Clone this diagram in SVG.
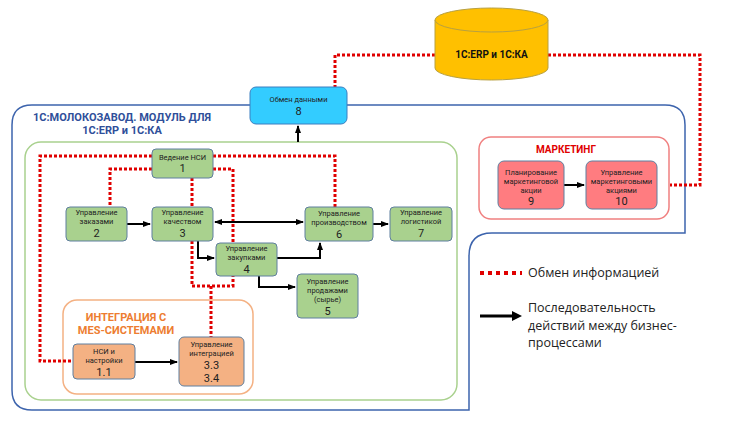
<svg xmlns="http://www.w3.org/2000/svg" width="750" height="422" viewBox="0 0 750 422">
<defs>
<marker id="ah" markerWidth="8" markerHeight="8" refX="7" refY="4" orient="auto" markerUnits="userSpaceOnUse"><path d="M0,1 L8,4 L0,7 z" fill="#000"/></marker>
<marker id="ahs" markerWidth="8" markerHeight="8" refX="1" refY="4" orient="auto" markerUnits="userSpaceOnUse"><path d="M8,1 L0,4 L8,7 z" fill="#000"/></marker>
<style>
text{font-family:Roboto,"Liberation Sans",sans-serif;text-anchor:middle;fill:#222}
.s{font-size:7.5px}.n{font-size:11px}
.g{fill:#A9D18E;stroke:#5f7f9f;stroke-width:1}
.o{fill:#F4B183;stroke:#5f7f9f;stroke-width:1}
.p{fill:#FF7C80;stroke:#5f7f9f;stroke-width:1}
.red{fill:none;stroke:#E00000;stroke-width:3;stroke-dasharray:3 2}
.blk{fill:none;stroke:#000;stroke-width:2}
</style>
</defs>
<path d="M32,105 H665 Q685,105 685,125 V233 H492 Q469,233 469,256 V410 H32 Q12,410 12,390 V125 Q12,105 32,105 Z" fill="none" stroke="#3d64ad" stroke-width="1.5"/>
<text x="122" y="121" style="font-size:11px;font-weight:bold;fill:#2f4f9a">1С:МОЛОКОЗАВОД. МОДУЛЬ ДЛЯ</text>
<text x="122" y="134" style="font-size:11px;font-weight:bold;fill:#2f4f9a">1С:ERP и 1С:КА</text>
<rect x="25" y="142" width="432" height="258" rx="16" fill="none" stroke="#A9D18E" stroke-width="1.5"/>
<rect x="63" y="300" width="190" height="94" rx="14" fill="none" stroke="#F4B183" stroke-width="1.5"/>
<text x="126" y="321" style="font-size:11px;font-weight:bold;fill:#ED7D31">ИНТЕГРАЦИЯ С</text>
<text x="126" y="334" style="font-size:11px;font-weight:bold;fill:#ED7D31">MES-СИСТЕМАМИ</text>
<rect x="479" y="137" width="190" height="82" rx="12" fill="none" stroke="#F08080" stroke-width="1.5"/>
<text x="566" y="153" style="font-size:10px;font-weight:bold;fill:#E00000">МАРКЕТИНГ</text>
<g id="connectors">
<path class="red" d="M435,55 H335 V87"/>
<path class="red" d="M548,55 H700 V185 H670"/>
<path class="red" d="M152,156 H40 V361 H73"/>
<path class="red" d="M152,169 H110 V207"/>
<path class="red" d="M213,156 H335 V207"/>
<path class="red" d="M213,169 H233 V286 H192 V241"/>
<path class="red" d="M192,178 V207"/>
<path class="red" d="M211,286 V337"/>
<path class="blk" d="M298,142 V126" marker-end="url(#ah)"/>
<path class="blk" d="M127,224 H150" marker-end="url(#ah)"/>
<path class="blk" d="M215,222 H303" marker-end="url(#ah)" marker-start="url(#ahs)"/>
<path class="blk" d="M373,224 H388" marker-end="url(#ah)"/>
<path class="blk" d="M198,241 V258 H214" marker-end="url(#ah)"/>
<path class="blk" d="M277,258 H320 V243" marker-end="url(#ah)"/>
<path class="blk" d="M259,276 V287 H295" marker-end="url(#ah)"/>
<path class="blk" d="M135,362 H177" marker-end="url(#ah)"/>
<path class="blk" d="M564,185 H584" marker-end="url(#ah)"/>
</g>
<g id="db">
<path d="M435,20 V68 A56.5,12 0 0 0 548,68 V20" fill="#FFC000" stroke="#b8a040"/>
<ellipse cx="491.5" cy="20" rx="56.5" ry="12" fill="#FFC000" stroke="#b8a040"/>
<text x="491.5" y="58" style="font-size:10px;font-weight:bold;fill:#111">1С:ERP и 1С:КА</text>
</g>
<g id="n8"><rect x="250" y="87" width="97" height="37" rx="6" fill="#33CCFF" stroke="#3d7fc0"/><text class="s" x="298.5" y="102">Обмен данными</text><text class="n" x="298.5" y="115">8</text></g>
<g id="n1"><rect class="g" x="152" y="149" width="61" height="29" rx="4"/><text class="s" x="182.5" y="160">Ведение НСИ</text><text class="n" x="182.5" y="172">1</text></g>
<g id="n2"><rect class="g" x="66" y="207" width="61" height="34" rx="4"/><text class="s" x="96.5" y="215">Управление</text><text class="s" x="96.5" y="224">заказами</text><text class="n" x="96.5" y="237">2</text></g>
<g id="n3"><rect class="g" x="152" y="207" width="61" height="34" rx="4"/><text class="s" x="182.5" y="215">Управление</text><text class="s" x="182.5" y="224">качеством</text><text class="n" x="182.5" y="237">3</text></g>
<g id="n6"><rect class="g" x="305" y="207" width="68" height="34" rx="4"/><text class="s" x="339" y="216">Управление</text><text class="s" x="339" y="225">производством</text><text class="n" x="339" y="238">6</text></g>
<g id="n7"><rect class="g" x="390" y="207" width="62" height="34" rx="4"/><text class="s" x="421" y="215">Управление</text><text class="s" x="421" y="224">логистикой</text><text class="n" x="421" y="237">7</text></g>
<g id="n4"><rect class="g" x="216" y="243" width="61" height="33" rx="4"/><text class="s" x="246.5" y="251">Управление</text><text class="s" x="246.5" y="260">закупками</text><text class="n" x="246.5" y="273">4</text></g>
<g id="n5"><rect class="g" x="297" y="274" width="61" height="44" rx="4"/><text class="s" x="327.5" y="284">Управление</text><text class="s" x="327.5" y="293">продажами</text><text class="s" x="327.5" y="302">(сырье)</text><text class="n" x="327.5" y="315">5</text></g>
<g id="n11"><rect class="o" x="73" y="344" width="62" height="35" rx="4"/><text class="s" x="104" y="354">НСИ и</text><text class="s" x="104" y="363">настройки</text><text class="n" x="104" y="376">1.1</text></g>
<g id="n33"><rect class="o" x="179" y="337" width="65" height="49" rx="5"/><text class="s" x="211.5" y="347">Управление</text><text class="s" x="211.5" y="356">интеграцией</text><text class="n" x="211.5" y="369">3.3</text><text class="n" x="211.5" y="382">3.4</text></g>
<g id="n9"><rect class="p" x="498" y="161" width="66" height="48" rx="6"/><text class="s" x="531" y="175">Планирование</text><text class="s" x="531" y="184">маркетинговой</text><text class="s" x="531" y="193">акции</text><text class="n" x="531" y="205">9</text></g>
<g id="n10"><rect class="p" x="586" y="161" width="71" height="48" rx="6"/><text class="s" x="621.5" y="175">Управление</text><text class="s" x="621.5" y="184">маркетинговыми</text><text class="s" x="621.5" y="193">акциями</text><text class="n" x="621.5" y="205">10</text></g>
<g id="legend">
<path d="M480,273 H522" stroke="#E00000" stroke-width="4" stroke-dasharray="4 4"/>
<text x="528" y="277" style="font-size:12.5px;text-anchor:start;font-family:'Open Sans','Liberation Sans',sans-serif">Обмен информацией</text>
<path d="M480,316 H514" stroke="#000" stroke-width="3"/><path d="M512,311 L522,316 L512,321 z" fill="#000"/>
<text x="528" y="312" style="font-size:12.5px;text-anchor:start;font-family:'Open Sans','Liberation Sans',sans-serif">Последовательность</text>
<text x="528" y="330" style="font-size:12.5px;text-anchor:start;font-family:'Open Sans','Liberation Sans',sans-serif">действий между бизнес-</text>
<text x="528" y="347" style="font-size:12.5px;text-anchor:start;font-family:'Open Sans','Liberation Sans',sans-serif">процессами</text>
</g>
</svg>
